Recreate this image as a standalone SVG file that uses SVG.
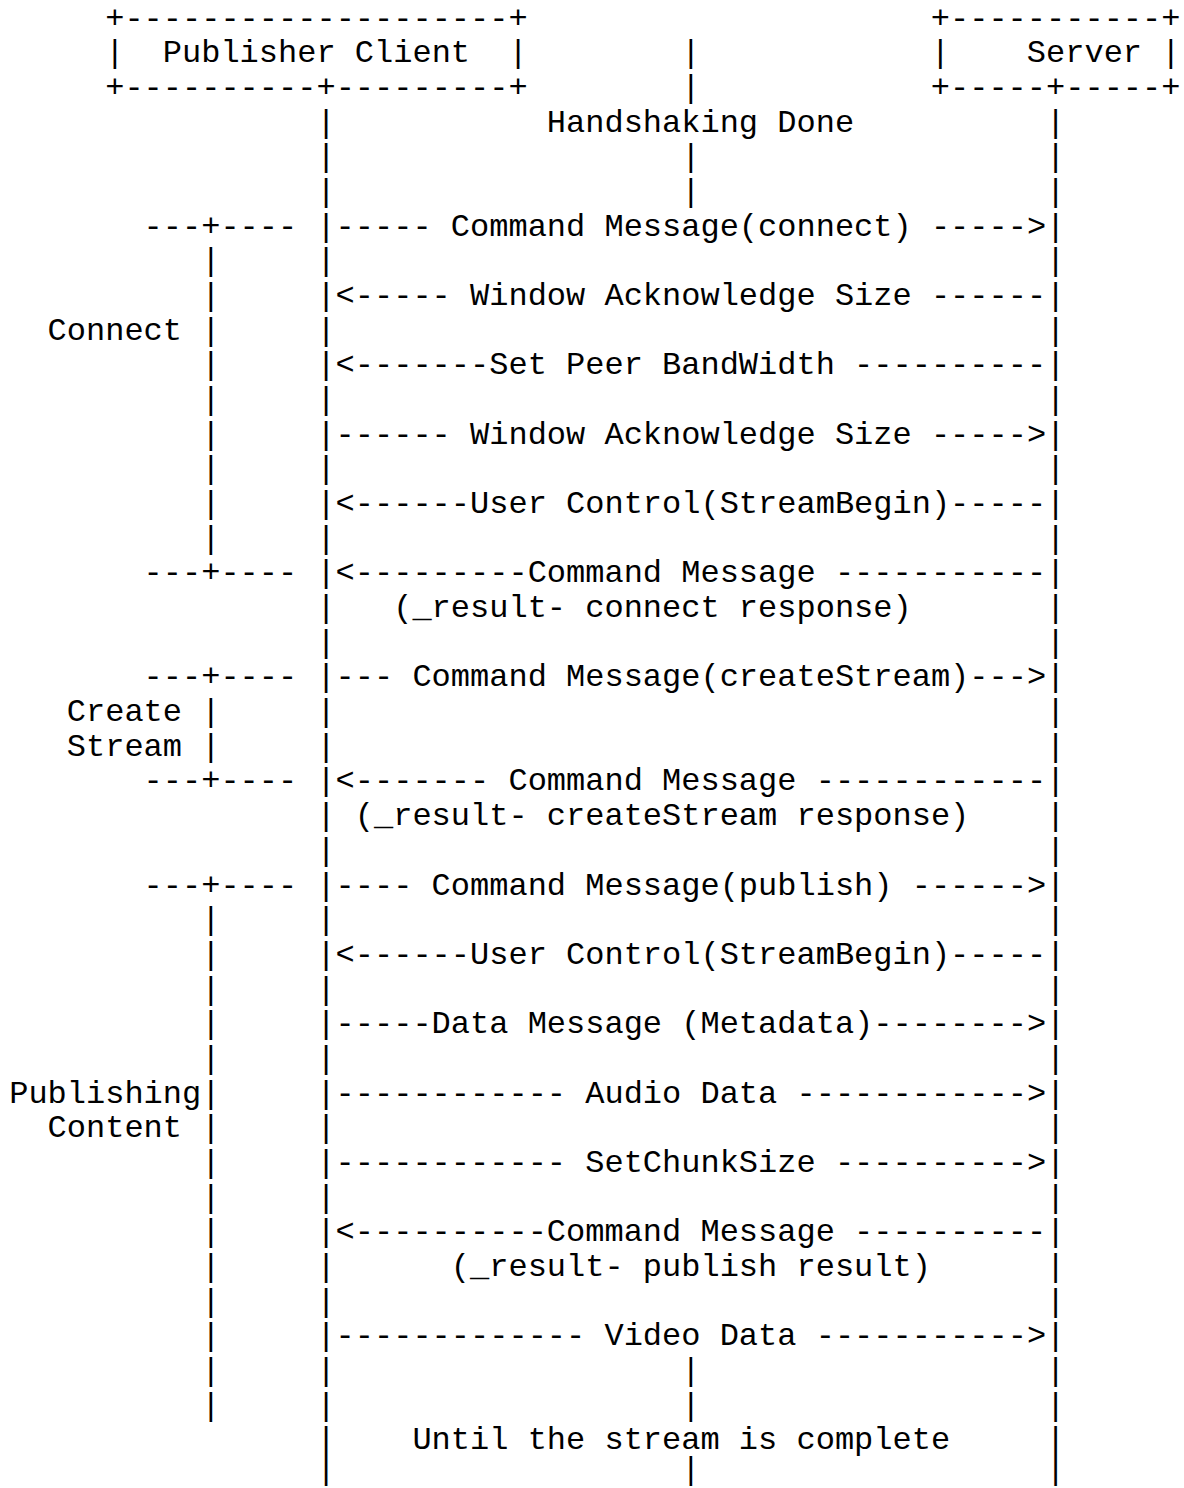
<svg xmlns="http://www.w3.org/2000/svg" width="1184" height="1488" viewBox="0 0 1184 1488" xml:space="preserve">
<style>
text{font-family:"Liberation Mono","Courier New","DejaVu Sans Mono",monospace;font-size:32px;fill:#000;white-space:pre}
</style>
<rect x="0" y="0" width="1184" height="1488" fill="#fff"/>
<g id="publisher-client">
<text x="105.2" y="27.5">+--------------------+</text>
<text x="105.2" y="62.18">|  Publisher Client  |</text>
<text x="105.2" y="96.86">+----------+---------+</text>
</g>
<g id="server">
<text x="930.8" y="27.5">+-----------+</text>
<text x="930.8" y="62.18">|    Server |</text>
<text x="930.8" y="96.86">+-----+-----+</text>
</g>
<g id="phase-connect">
<text x="143.6" y="235.58">---+----</text>
<text x="201.2" y="270.26">|</text>
<text x="201.2" y="304.94">|</text>
<text x="47.6" y="339.62">Connect |</text>
<text x="201.2" y="374.3">|</text>
<text x="201.2" y="408.98">|</text>
<text x="201.2" y="443.66">|</text>
<text x="201.2" y="478.34">|</text>
<text x="201.2" y="513.02">|</text>
<text x="201.2" y="547.7">|</text>
<text x="143.6" y="582.38">---+----</text>
</g>
<g id="phase-create-stream">
<text x="143.6" y="686.42">---+----</text>
<text x="66.8" y="721.1">Create |</text>
<text x="66.8" y="755.78">Stream |</text>
<text x="143.6" y="790.46">---+----</text>
</g>
<g id="phase-publishing">
<text x="143.6" y="894.5">---+----</text>
<text x="201.2" y="929.18">|</text>
<text x="201.2" y="963.86">|</text>
<text x="201.2" y="998.54">|</text>
<text x="201.2" y="1033.22">|</text>
<text x="201.2" y="1067.9">|</text>
<text x="9.2" y="1102.58">Publishing|</text>
<text x="47.6" y="1137.26">Content |</text>
<text x="201.2" y="1171.94">|</text>
<text x="201.2" y="1206.62">|</text>
<text x="201.2" y="1241.3">|</text>
<text x="201.2" y="1275.98">|</text>
<text x="201.2" y="1310.66">|</text>
<text x="201.2" y="1345.34">|</text>
<text x="201.2" y="1380.02">|</text>
<text x="201.2" y="1414.7">|</text>
</g>
<g id="connectors">
<text x="681.2" y="62.18">|</text>
<text x="681.2" y="96.86">|</text>
<text x="316.4" y="131.54">|           Handshaking Done          |</text>
<text x="316.4" y="166.22">|                  |                  |</text>
<text x="316.4" y="200.9">|                  |                  |</text>
<text x="316.4" y="235.58">|----- Command Message(connect) -----&gt;|</text>
<text x="316.4" y="270.26">|                                     |</text>
<text x="316.4" y="304.94">|&lt;----- Window Acknowledge Size ------|</text>
<text x="316.4" y="339.62">|                                     |</text>
<text x="316.4" y="374.3">|&lt;-------Set Peer BandWidth ----------|</text>
<text x="316.4" y="408.98">|                                     |</text>
<text x="316.4" y="443.66">|------ Window Acknowledge Size -----&gt;|</text>
<text x="316.4" y="478.34">|                                     |</text>
<text x="316.4" y="513.02">|&lt;------User Control(StreamBegin)-----|</text>
<text x="316.4" y="547.7">|                                     |</text>
<text x="316.4" y="582.38">|&lt;---------Command Message -----------|</text>
<text x="316.4" y="617.06">|   (_result- connect response)       |</text>
<text x="316.4" y="651.74">|                                     |</text>
<text x="316.4" y="686.42">|--- Command Message(createStream)---&gt;|</text>
<text x="316.4" y="721.1">|                                     |</text>
<text x="316.4" y="755.78">|                                     |</text>
<text x="316.4" y="790.46">|&lt;------- Command Message ------------|</text>
<text x="316.4" y="825.14">| (_result- createStream response)    |</text>
<text x="316.4" y="859.82">|                                     |</text>
<text x="316.4" y="894.5">|---- Command Message(publish) ------&gt;|</text>
<text x="316.4" y="929.18">|                                     |</text>
<text x="316.4" y="963.86">|&lt;------User Control(StreamBegin)-----|</text>
<text x="316.4" y="998.54">|                                     |</text>
<text x="316.4" y="1033.22">|-----Data Message (Metadata)--------&gt;|</text>
<text x="316.4" y="1067.9">|                                     |</text>
<text x="316.4" y="1102.58">|------------ Audio Data ------------&gt;|</text>
<text x="316.4" y="1137.26">|                                     |</text>
<text x="316.4" y="1171.94">|------------ SetChunkSize ----------&gt;|</text>
<text x="316.4" y="1206.62">|                                     |</text>
<text x="316.4" y="1241.3">|&lt;----------Command Message ----------|</text>
<text x="316.4" y="1275.98">|      (_result- publish result)      |</text>
<text x="316.4" y="1310.66">|                                     |</text>
<text x="316.4" y="1345.34">|------------- Video Data -----------&gt;|</text>
<text x="316.4" y="1380.02">|                  |                  |</text>
<text x="316.4" y="1414.7">|                  |                  |</text>
<text x="316.4" y="1449.38">|    Until the stream is complete     |</text>
<text x="316.4" y="1479">|                  |                  |</text>
</g>
</svg>
